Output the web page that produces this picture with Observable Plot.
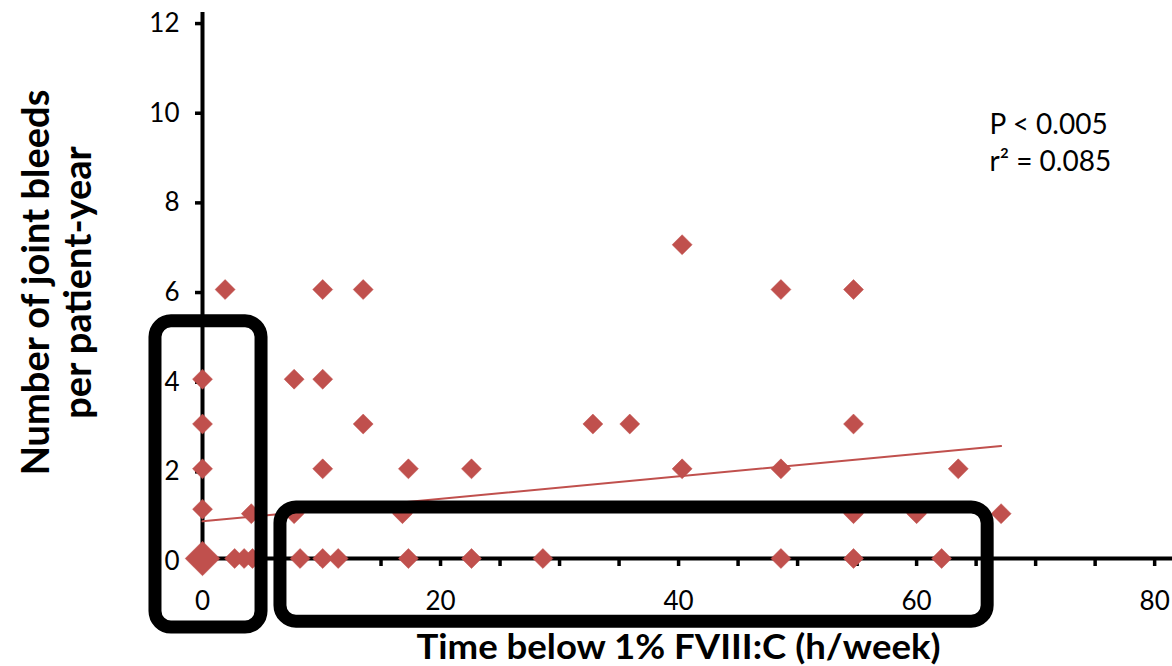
<!DOCTYPE html>
<html>
<head>
<meta charset="utf-8">
<script src="https://cdn.jsdelivr.net/npm/d3@7"></script>
<script src="https://cdn.jsdelivr.net/npm/@observablehq/plot@0.6"></script>
<style>
  body { margin: 0; background: #fff; }
  #chart { width: 1172px; height: 666px; }
</style>
</head>
<body>
<div id="chart"></div>
<script>
// Time below 1% FVIII:C (h/week) for each patient
const timeBelow = [0, 0, 0, 0, 0, 1.9, 2.7, 3.5, 4.2, 4.1, 7.7, 7.7, 8.2, 10.1, 10.1, 10.1, 10.1, 11.4,
  13.5, 13.5, 16.8, 17.3, 17.3, 22.6, 22.6, 28.6, 32.8, 35.9, 40.3, 40.3, 48.6, 48.6, 48.6,
  54.7, 54.7, 54.7, 54.7, 60.0, 62.1, 63.5, 67.1];
// Number of joint bleeds per patient-year
const jointBleeds = [4, 3, 2, 1.1, 0, 6, 0, 0, 0, 1, 4, 1, 0, 6, 4, 2, 0, 0,
  6, 3, 1, 2, 0, 2, 0, 0, 3, 3, 7, 2, 6, 2, 0,
  6, 3, 1, 0, 1, 0, 2, 1];
// number of patients sharing the same point (larger marker)
const overlapCount = [1, 1, 1, 1, 3, 1, 1, 1, 1, 1, 1, 1, 1, 1, 1, 1, 1, 1,
  1, 1, 1, 1, 1, 1, 1, 1, 1, 1, 1, 1, 1, 1, 1,
  1, 1, 1, 1, 1, 1, 1, 1];

// linear trend line
const trendX = [0, 67.1];
const trendY = [0.83, 2.51];

// highlighted regions (data units)
const boxX1 = [-3.95, 6.55];
const boxX2 = [4.96, 65.97];
const boxY1 = [-1.54, -1.41];
const boxY2 = [5.29, 1.14];

// ticks
const xTicks = [0, 5, 10, 15, 20, 25, 30, 35, 40, 45, 50, 55, 60, 65, 70, 75, 80];
const xTickLabels = [0, 20, 40, 60, 80];
const yTicks = [0, 2, 4, 6, 8, 10, 12];

const xTitle = "Time below 1% FVIII:C (h/week)";
const yTitle = "Number of joint bleeds\nper patient-year";
const statsText = "P < 0.005\nr\u00B2 = 0.085";

const red = "#C0504D";

const points = timeBelow.map((x, i) => ({x, y: jointBleeds[i], n: overlapCount[i]}));
const trend = trendX.map((x, i) => ({x, y: trendY[i]}));
const boxes = boxX1.map((x1, i) => ({x1, x2: boxX2[i], y1: boxY1[i], y2: boxY2[i]}));

const markerR = 9;

const chart = Plot.plot({
  width: 1172,
  height: 666,
  marginLeft: 202,
  marginRight: 0,
  marginTop: 12,
  marginBottom: 108,
  style: {fontFamily: "Lato, sans-serif", fontSize: "26px", color: "#000", background: "#fff"},
  x: {domain: [0, 81.5]},
  y: {domain: [0, 12.18]},
  r: {type: "identity"},
  marks: [
    Plot.axisY({ticks: yTicks, tickSize: 7, tickPadding: 16, strokeWidth: 3.5, fontSize: 26, dy: 3, label: null}),
    Plot.axisX({ticks: xTicks, tickSize: 8, tickPadding: 25, strokeWidth: 3.5, fontSize: 26,
      tickFormat: d => xTickLabels.includes(d) ? String(d) : "", label: null}),
    Plot.ruleY([0], {stroke: "#000", strokeWidth: 4}),
    Plot.ruleX([0], {stroke: "#000", strokeWidth: 4}),
    Plot.line(trend, {x: "x", y: "y", stroke: red, strokeWidth: 2}),
    Plot.dot(points, {x: "x", y: "y", r: d => markerR * Math.sqrt(d.n), symbol: "diamond2",
      fill: red, stroke: red, strokeWidth: 0.5}),
    Plot.rect(boxes, {x1: "x1", x2: "x2", y1: "y1", y2: "y2", fill: "none", stroke: "#000", strokeWidth: 13, rx: 16}),
    Plot.text([xTitle], {frameAnchor: "bottom", dx: -9, dy: 90, lineAnchor: "middle", fontSize: 34, fontWeight: "bold"}),
    Plot.text([yTitle], {frameAnchor: "left", rotate: -90, dx: -146, dy: -3, lineAnchor: "middle", textAnchor: "middle",
      lineHeight: 1.1, fontSize: 38, fontWeight: "bold"}),
    Plot.text([statsText], {frameAnchor: "top-right", dx: -183, dy: 128, textAnchor: "start", lineAnchor: "middle",
      lineHeight: 1.32, fontSize: 28})
  ]
});
document.getElementById("chart").appendChild(chart);

// stretch the x-axis title to the reference width
d3.select(chart).selectAll("text").filter(function() { return this.textContent === xTitle; })
  .attr("textLength", 524).attr("lengthAdjust", "spacingAndGlyphs");
</script>
</body>
</html>
